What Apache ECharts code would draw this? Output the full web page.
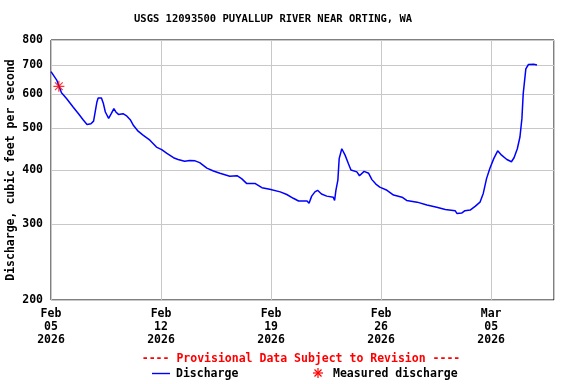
<!DOCTYPE html>
<html>
<head>
<meta charset="utf-8">
<script src="https://cdn.jsdelivr.net/npm/echarts@6/dist/echarts.min.js"></script>
<style>html,body{margin:0;padding:0;background:#fff}#c{width:576px;height:384px}</style>
</head>
<body>
<div id="c"></div>
<script>
// Discharge time series (local time) and values in cubic feet per second
const times = [
'2026-02-05T00:00','2026-02-05T01:00','2026-02-05T09:00','2026-02-05T16:00','2026-02-06T00:00',
'2026-02-06T10:00','2026-02-06T18:00','2026-02-07T01:00','2026-02-07T07:00','2026-02-07T13:00',
'2026-02-07T17:00','2026-02-07T19:00','2026-02-07T22:00','2026-02-08T00:00','2026-02-08T05:00',
'2026-02-08T08:00','2026-02-08T11:00','2026-02-08T16:00','2026-02-08T20:00','2026-02-09T00:00',
'2026-02-09T03:00','2026-02-09T07:00','2026-02-09T14:00','2026-02-09T20:00','2026-02-10T01:00',
'2026-02-10T06:00','2026-02-10T13:00','2026-02-10T21:00','2026-02-11T07:00','2026-02-11T17:00',
'2026-02-12T01:00','2026-02-12T09:00','2026-02-12T19:00','2026-02-13T02:00','2026-02-13T12:00',
'2026-02-13T20:00','2026-02-14T04:00','2026-02-14T11:00','2026-02-14T22:00','2026-02-15T08:00',
'2026-02-15T18:00','2026-02-16T09:00','2026-02-16T20:00','2026-02-17T03:00','2026-02-17T11:00',
'2026-02-18T00:00','2026-02-18T10:00','2026-02-18T22:00','2026-02-19T14:00','2026-02-20T00:00',
'2026-02-20T10:00','2026-02-20T18:00','2026-02-21T07:00','2026-02-21T10:00','2026-02-21T14:00',
'2026-02-21T19:00','2026-02-21T23:00','2026-02-22T05:00','2026-02-22T13:00','2026-02-22T23:00',
'2026-02-23T01:00','2026-02-23T03:00','2026-02-23T06:00','2026-02-23T08:00','2026-02-23T12:00',
'2026-02-23T14:00','2026-02-23T17:00','2026-02-23T22:00','2026-02-24T02:00','2026-02-24T11:00',
'2026-02-24T15:00','2026-02-24T22:00','2026-02-25T05:00','2026-02-25T10:00','2026-02-25T16:00',
'2026-02-25T22:00','2026-02-26T09:00','2026-02-26T19:00','2026-02-27T08:00','2026-02-27T15:00',
'2026-02-28T07:00','2026-02-28T22:00','2026-03-01T13:00','2026-03-02T02:00','2026-03-02T17:00',
'2026-03-02T20:00','2026-03-03T03:00','2026-03-03T08:00','2026-03-03T16:00','2026-03-04T00:00',
'2026-03-04T07:00','2026-03-04T12:00','2026-03-04T17:00','2026-03-04T22:00','2026-03-05T04:00',
'2026-03-05T10:00','2026-03-05T16:00','2026-03-06T00:00','2026-03-06T07:00','2026-03-06T11:00',
'2026-03-06T16:00','2026-03-06T20:00','2026-03-06T23:00','2026-03-07T01:00','2026-03-07T05:00',
'2026-03-07T09:00','2026-03-07T17:00','2026-03-07T22:00'
];
const discharge = [
676,672,645,604,585,
559,540,523,510,512,
519,540,574,587,587,
570,545,527,540,555,
545,538,540,533,523,
507,492,481,469,452,
446,437,427,423,419,
421,420,416,404,398,
393,387,388,382,372,
372,364,361,356,351,
344,339,339,335,348,
356,359,352,348,346,
340,359,379,425,448,
448,433,414,400,396,
388,397,393,380,371,
365,359,350,346,340,
337,332,328,324,322,
317,318,322,323,330,
337,353,382,403,425,
443,433,423,418,427,
448,477,526,601,686,
702,703,700
];
const measuredTimes = ['2026-02-05T12:00'];
const measuredValues = [625];
const yTicks = [200,300,400,500,600,700,800];
const monthNames = ['Jan','Feb','Mar','Apr','May','Jun','Jul','Aug','Sep','Oct','Nov','Dec'];

const base = new Date(2026,1,5,0,0,0).getTime();
function dayOffset(s){
  const p = s.split('T'); const d = p[0].split('-'); const t = p[1].split(':');
  const ms = new Date(+d[0], +d[1]-1, +d[2], +t[0], +t[1]).getTime();
  return (ms - base)/86400000;
}
const lineData = times.map((t,i)=>[dayOffset(t), discharge[i]]);
const measData = measuredTimes.map((t,i)=>[dayOffset(t), measuredValues[i]]);
const FONT = 'DejaVu Sans Mono';
const starPath = 'path://M0,5L10,5M5,0L5,10M1.5,1.5L8.5,8.5M8.5,1.5L1.5,8.5';
const LF = 'bold 11.5px "DejaVu Sans Mono"';

const chart = echarts.init(document.getElementById('c'), null, {renderer:'canvas'});
chart.setOption({
  animation:false,
  backgroundColor:'#fff',
  title:{text:'USGS 12093500 PUYALLUP RIVER NEAR ORTING, WA', left:129, top:9,
    textStyle:{fontFamily:FONT, fontWeight:'bold', fontSize:10.5, color:'#000'}},
  grid:{left:51, right:22, top:40, bottom:84, show:true, borderColor:'#000', borderWidth:1,
    containLabel:false, outerBoundsMode:'none'},
  xAxis:{type:'value', min:0, max:32, interval:7,
    axisLine:{show:false}, axisTick:{show:false},
    splitLine:{show:true, lineStyle:{color:'#c8c8c8', width:1}},
    axisLabel:{showMaxLabel:false, margin:8, lineHeight:13, color:'#000',
      fontFamily:FONT, fontWeight:'bold', fontSize:11.5,
      formatter:function(v){
        const d = new Date(base + v*86400000);
        const dd = String(d.getDate()).padStart(2,'0');
        return monthNames[d.getMonth()] + '\n' + dd + '\n' + d.getFullYear();
      }}
  },
  yAxis:{type:'log', logBase:10, min:200, max:800,
    name:'Discharge, cubic feet per second', nameLocation:'middle', nameGap:34, nameMoveOverlap:false,
    nameTextStyle:{fontFamily:FONT, fontWeight:'bold', fontSize:11.5, color:'#000'},
    axisLine:{show:false},
    axisTick:{show:false, customValues:yTicks},
    splitLine:{show:true, lineStyle:{color:'#c8c8c8', width:1}},
    axisLabel:{customValues:yTicks, margin:8, color:'#000', fontFamily:FONT, fontWeight:'bold', fontSize:11.5,
      formatter:function(v){return String(Math.round(v));}}
  },
  series:[
    {type:'line', name:'Discharge', data:lineData, showSymbol:false, symbol:'none',
      lineStyle:{color:'#0000ff', width:1.5}, z:3},
    {type:'scatter', name:'Measured discharge', data:measData, symbol:starPath, symbolSize:11,
      itemStyle:{color:'#ff0000', borderColor:'#ff0000', borderWidth:1.2}, z:4}
  ],
  graphic:[
    {type:'text', x:301, y:359, style:{text:'---- Provisional Data Subject to Revision ----',
      fill:'#ff0000', font:LF, textAlign:'center', textVerticalAlign:'middle'}},
    {type:'line', shape:{x1:152,y1:373.5,x2:170,y2:373.5}, style:{stroke:'#0000ff', lineWidth:1.4}},
    {type:'text', x:176, y:374, style:{text:'Discharge', fill:'#000', font:LF, textVerticalAlign:'middle'}},
    {type:'line', shape:{x1:313,y1:373,x2:323,y2:373}, style:{stroke:'#ff0000', lineWidth:1.2}},
    {type:'line', shape:{x1:318,y1:368,x2:318,y2:378}, style:{stroke:'#ff0000', lineWidth:1.2}},
    {type:'line', shape:{x1:314.5,y1:369.5,x2:321.5,y2:376.5}, style:{stroke:'#ff0000', lineWidth:1.2}},
    {type:'line', shape:{x1:321.5,y1:369.5,x2:314.5,y2:376.5}, style:{stroke:'#ff0000', lineWidth:1.2}},
    {type:'text', x:333, y:374, style:{text:'Measured discharge', fill:'#000', font:LF, textVerticalAlign:'middle'}}
  ]
});
</script>
</body>
</html>
